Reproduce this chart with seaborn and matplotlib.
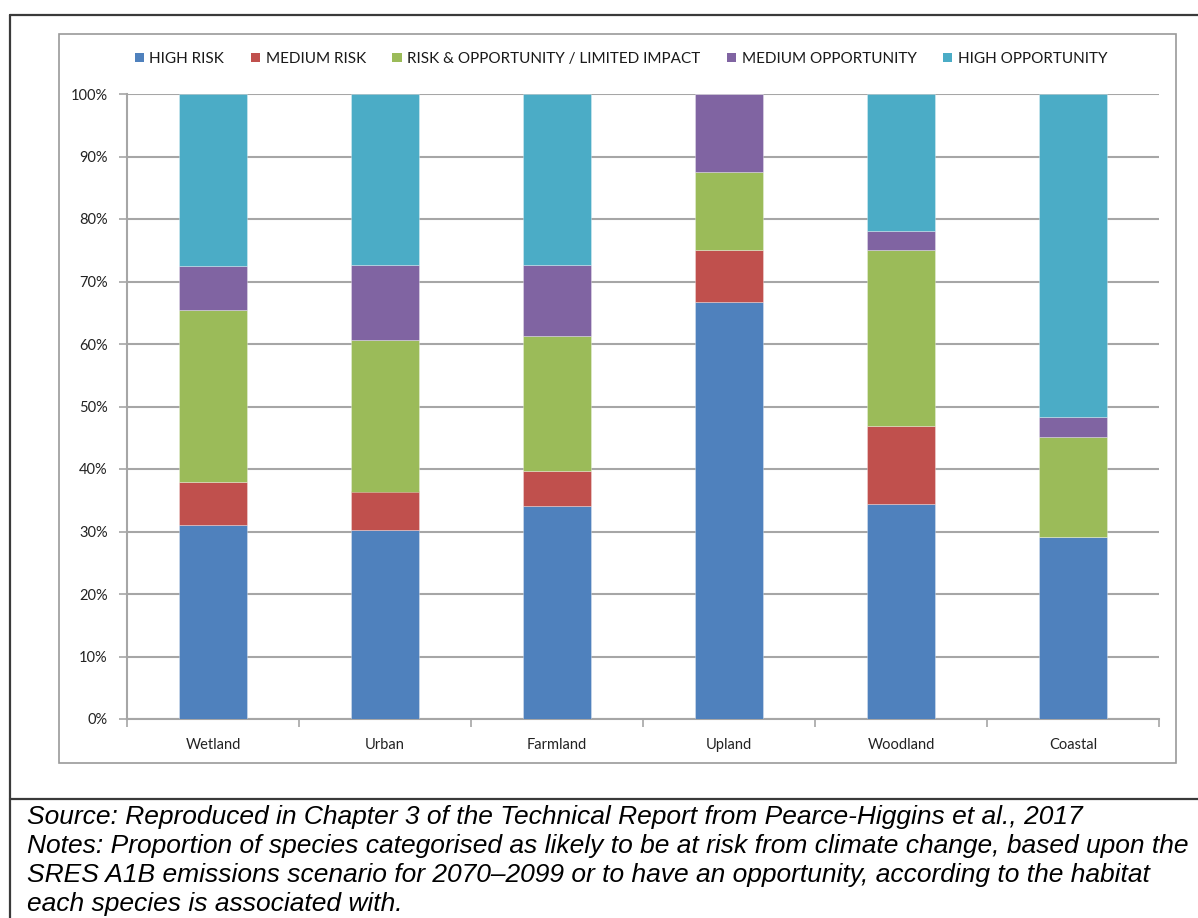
import matplotlib
matplotlib.use("Agg")
import matplotlib.pyplot as plt
import seaborn as sns
import pandas as pd
import numpy as np
from matplotlib.patches import Patch, Rectangle
from matplotlib.lines import Line2D
from matplotlib.ticker import FixedLocator

habitats = ["Wetland", "Urban", "Farmland", "Upland", "Woodland", "Coastal"]
series_names = ["HIGH RISK", "MEDIUM RISK", "RISK & OPPORTUNITY / LIMITED IMPACT",
                "MEDIUM OPPORTUNITY", "HIGH OPPORTUNITY"]
high_risk = [31.0, 30.2, 34.1, 66.7, 34.4, 29.1]
medium_risk = [6.9, 6.2, 5.6, 8.3, 12.5, 0.0]
risk_opp = [27.6, 24.2, 21.6, 12.5, 28.1, 16.1]
medium_opp = [7.0, 12.1, 11.4, 12.5, 3.1, 3.2]
high_opp = [27.5, 27.3, 27.3, 0.0, 21.9, 51.6]
colors = ["#4F81BD", "#C0504D", "#9BBB59", "#8064A2", "#4BACC6"]
ytick_vals = [0, 10, 20, 30, 40, 50, 60, 70, 80, 90, 100]

sns.set_theme(style="white")
plt.rcParams["font.family"] = ["Lato", "DejaVu Sans"]

W, H = 1198, 918
fig = plt.figure(figsize=(W / 100, H / 100), dpi=100)
fig.patch.set_facecolor("white")

def fx(x):
    return x / W

def fy(y):
    return 1 - y / H

ax = fig.add_axes([fx(127), fy(719), fx(1159) - fx(127), fy(94) - fy(719)])

df = pd.DataFrame({"habitat": habitats})
layers = [high_risk, medium_risk, risk_opp, medium_opp, high_opp]
bottom = np.zeros(len(habitats))
for name, vals, col in zip(series_names, layers, colors):
    d = df.copy()
    d["value"] = vals
    sns.barplot(data=d, x="habitat", y="value", color=col, bottom=bottom,
                width=0.4, ax=ax, saturation=1, linewidth=0.6,
                edgecolor=(1, 1, 1, 0.35), zorder=3)
    bottom = bottom + np.array(vals)

ax.set_xlim(-0.5, len(habitats) - 0.5)
ax.set_ylim(0, 100)
ax.set_yticks(ytick_vals)
ax.set_yticklabels([f"{v}%" for v in ytick_vals])
ax.yaxis.grid(True, color="#A6A6A6", linewidth=1.5, zorder=0)
ax.set_axisbelow(True)
ax.set_xlabel("")
ax.set_ylabel("")
for s in ["top", "right"]:
    ax.spines[s].set_visible(False)
for s in ["left", "bottom"]:
    ax.spines[s].set_color("#A6A6A6")
    ax.spines[s].set_linewidth(1.5)
ax.tick_params(axis="y", which="major", left=True, length=6, width=1.2,
               color="#A6A6A6", labelsize=10.5, labelcolor="#222222", pad=8)
ax.tick_params(axis="x", which="major", bottom=False, length=0,
               labelsize=10.5, labelcolor="#222222", pad=14)
ax.xaxis.set_minor_locator(FixedLocator(np.arange(-0.5, len(habitats), 1.0)))
ax.tick_params(axis="x", which="minor", bottom=True, length=6, width=1.2,
               color="#A6A6A6")

handles = [Patch(facecolor=c, edgecolor="none") for c in colors]
fig.legend(handles, series_names, loc="center", bbox_to_anchor=(fx(621), fy(59)),
           ncol=5, frameon=False, fontsize=11, handlelength=0.6,
           handleheight=0.6, handletextpad=0.35, columnspacing=1.75,
           labelcolor="#1A1A1A")

# chart frame
fig.add_artist(Rectangle((fx(59), fy(763)), fx(1176) - fx(59), fy(34) - fy(763),
                         transform=fig.transFigure, fill=False,
                         edgecolor="#9A9A9A", linewidth=1.2))
# outer document frame
lc = "#3A3A3A"
fig.add_artist(Line2D([fx(10), 1.0], [fy(15), fy(15)], transform=fig.transFigure,
                      color=lc, linewidth=1.6))
fig.add_artist(Line2D([fx(10), fx(10)], [fy(15), 0.0], transform=fig.transFigure,
                      color=lc, linewidth=1.6))
fig.add_artist(Line2D([fx(10), 1.0], [fy(799), fy(799)], transform=fig.transFigure,
                      color=lc, linewidth=1.6))

foot = [
    "Source: Reproduced in Chapter 3 of the Technical Report from Pearce-Higgins et al., 2017",
    "Notes: Proportion of species categorised as likely to be at risk from climate change, based upon the",
    "SRES A1B emissions scenario for 2070\u20132099 or to have an opportunity, according to the habitat",
    "each species is associated with.",
]
for i, line in enumerate(foot):
    fig.text(fx(27), fy(817 + 29 * i), line, ha="left", va="center",
             fontsize=19, fontstyle="italic",
             family=["Liberation Sans", "DejaVu Sans"], color="black")

fig.savefig("out.png", dpi=100, facecolor="white")
